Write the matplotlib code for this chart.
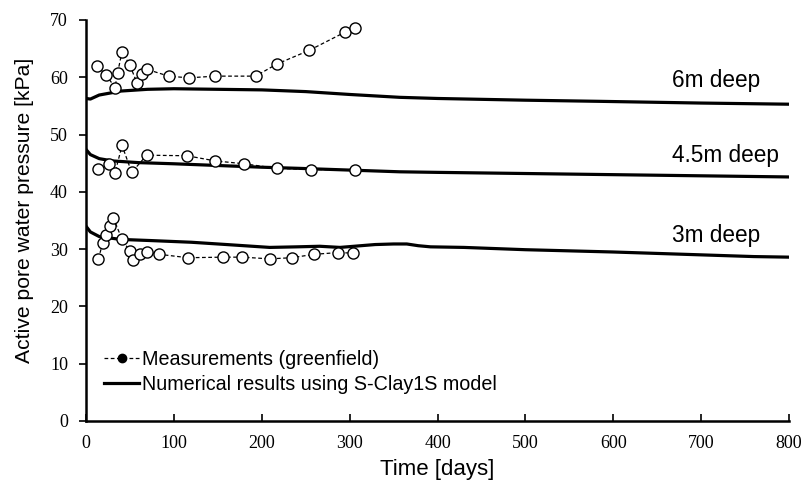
import matplotlib
matplotlib.use("Agg")
import matplotlib.pyplot as plt
from matplotlib.lines import Line2D

t6 = [12, 23, 33, 36, 41, 50, 58, 64, 69, 94, 117, 147, 193, 217, 254, 295, 306]
p6 = [62.0, 60.4, 58.2, 60.8, 64.5, 62.1, 59.0, 60.6, 61.4, 60.2, 59.9, 60.2, 60.2, 62.3, 64.7, 67.9, 68.6]

t45 = [14, 26, 33, 41, 52, 69, 115, 147, 180, 217, 256, 306]
p45 = [44.0, 44.9, 43.3, 48.1, 43.4, 46.4, 46.3, 45.4, 44.9, 44.1, 43.9, 43.8]

t3 = [14, 19, 23, 27, 31, 41, 50, 54, 62, 69, 83, 116, 156, 178, 209, 234, 260, 287, 304]
p3 = [28.3, 31.0, 32.5, 34.1, 35.5, 31.7, 29.6, 28.1, 29.1, 29.5, 29.1, 28.5, 28.6, 28.6, 28.3, 28.5, 29.1, 29.4, 29.3]

# numerical results (S-Clay1S)
tm6 = [0, 5, 15, 40, 70, 100, 150, 200, 250, 300, 357, 400, 500, 585, 700, 800]
pm6 = [56.3, 56.2, 56.9, 57.6, 57.9, 58.0, 57.9, 57.8, 57.5, 57.0, 56.5, 56.3, 56.0, 55.8, 55.5, 55.3]

tm45 = [0, 5, 15, 30, 60, 100, 150, 200, 243, 300, 357, 400, 500, 600, 700, 800]
pm45 = [47.4, 46.5, 45.8, 45.4, 45.1, 44.9, 44.6, 44.3, 44.1, 43.8, 43.5, 43.4, 43.2, 43.0, 42.8, 42.6]

tm3 = [0, 5, 15, 39, 73, 120, 160, 209, 240, 266, 289, 329, 350, 365, 378, 392, 430, 500, 600, 700, 760, 800]
pm3 = [34.0, 33.0, 32.2, 31.7, 31.5, 31.2, 30.8, 30.3, 30.4, 30.5, 30.3, 30.8, 30.9, 30.9, 30.6, 30.4, 30.3, 29.9, 29.5, 29.0, 28.7, 28.6]

labels = ["6m deep", "4.5m deep", "3m deep"]
label_y = [57.4, 44.3, 30.4]

plt.rcParams['font.family'] = ['Liberation Sans', 'DejaVu Sans']

fig = plt.figure(figsize=(8.06, 4.83), dpi=100)
ax = fig.add_axes([0.1067, 0.1284, 0.8723, 0.8302])

for tm, pm in [(tm6, pm6), (tm45, pm45), (tm3, pm3)]:
    ax.plot(tm, pm, color='black', linewidth=2.3, zorder=2)

for t, p in [(t6, p6), (t45, p45), (t3, p3)]:
    ax.plot(t, p, color='black', linestyle=(0, (3, 2)), linewidth=0.9,
            marker='o', markersize=8, markerfacecolor='white',
            markeredgecolor='black', markeredgewidth=1.0, zorder=3)

for lab, y in zip(labels, label_y):
    ax.text(667, y, lab, fontsize=16.3, ha='left', va='bottom')

ax.set_xlim(0, 800)
ax.set_ylim(0, 70)
ax.set_xticks(range(0, 801, 100))
ax.set_yticks(range(0, 71, 10))
for lbl in ax.get_xticklabels() + ax.get_yticklabels():
    lbl.set_family('Liberation Serif')
    lbl.set_fontsize(13)
ax.tick_params(axis='x', direction='in', length=5, width=1.2, pad=10)
ax.tick_params(axis='y', direction='out', length=5, width=1.2, pad=8)

ax.spines['top'].set_visible(False)
ax.spines['right'].set_visible(False)
ax.spines['left'].set_linewidth(1.8)
ax.spines['bottom'].set_linewidth(1.8)

ax.set_xlabel("Time [days]", fontsize=16, labelpad=5)
ax.set_ylabel("Active pore water pressure [kPa]", fontsize=15.2)
ax.yaxis.set_label_coords(-0.074, 0.524)

handles = [
    Line2D([], [], color='black', linestyle=(0, (3, 2)), linewidth=0.9,
           marker='o', markersize=6, markerfacecolor='black'),
    Line2D([], [], color='black', linewidth=2.3),
]
ax.legend(handles, ["Measurements (greenfield)", "Numerical results using S-Clay1S model"],
          loc='lower left', bbox_to_anchor=(0.0, 0.023), frameon=False,
          fontsize=14.2, handlelength=1.8, handletextpad=0.15, labelspacing=0.3)

fig.savefig("out.png", dpi=100)
